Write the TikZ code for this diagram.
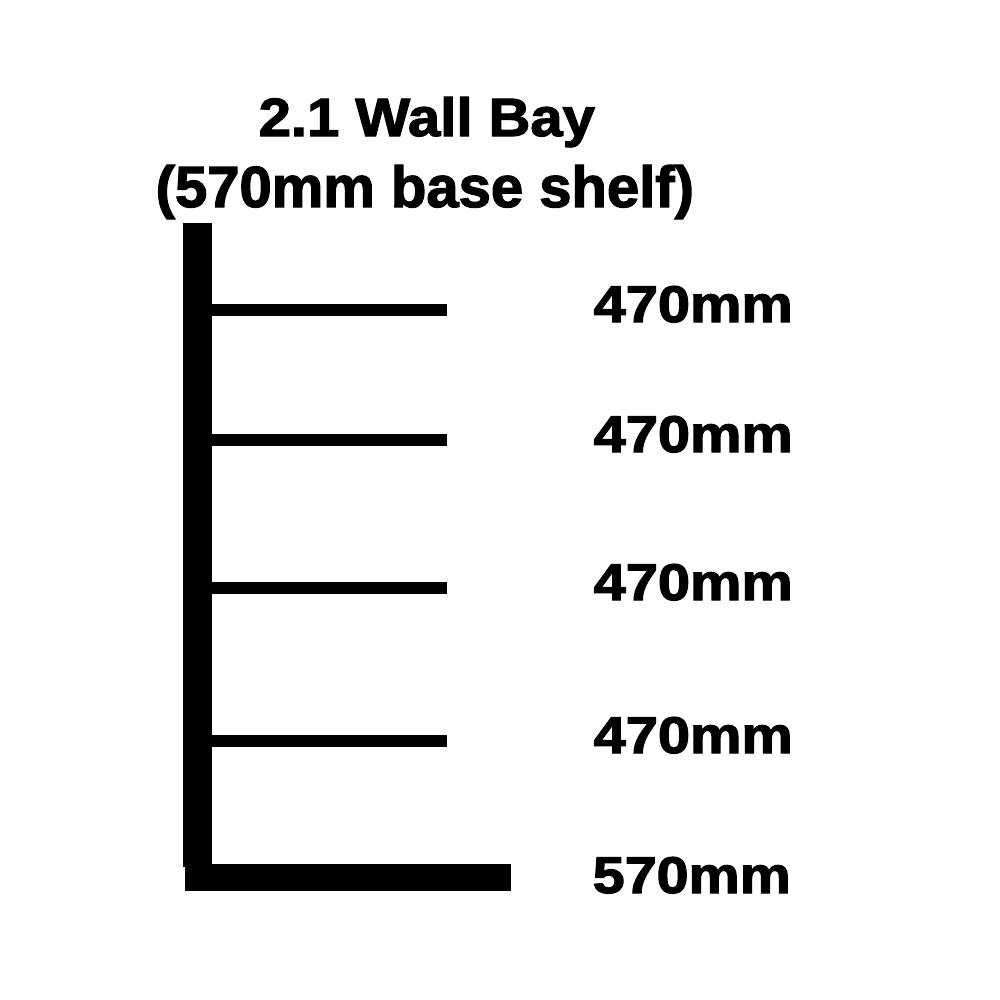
\documentclass[tikz,border=0pt]{standalone}
\usepackage{fontspec}
\setmainfont{Liberation Sans}[BoldFeatures={FakeBold=2.2}]
\usetikzlibrary{positioning}
\tikzset{
board/.style={fill=black},
size/.style={anchor=base west, inner sep=0pt, font=\bfseries}
}
% stretch a label to a given width and cap height
\newcommand{\fitto}[3]{\resizebox{#1}{#2}{#3}}

\begin{document}
\begin{tikzpicture}[x=0.01cm,y=-0.01cm]
\useasboundingbox (0,0) rectangle (1000,1000);

% title
\node[size] (title) at (258,136) {\fitto{3.36cm}{0.39cm}{2.1 Wall Bay}};
\node[size] (subtitle) at (155,207) {\fitto{5.38cm}{0.42cm}{(570mm base shelf)}};

% upright and base
\fill[board] (183,223) rectangle (212,867);
\fill[board] (185,864) rectangle (511,891);

% shelves
\foreach \y/\name in {310/one,440/two,588/three,741/four}{
  \fill[board] (212,\y-6) rectangle (447,\y+6);
  \node[size] (lbl\name) at (593,\y+12) {\fitto{1.99cm}{0.36cm}{470mm}};
}
\node[size] (lblbase) at (592,893) {\fitto{1.98cm}{0.36cm}{570mm}};
\end{tikzpicture}
\end{document}
